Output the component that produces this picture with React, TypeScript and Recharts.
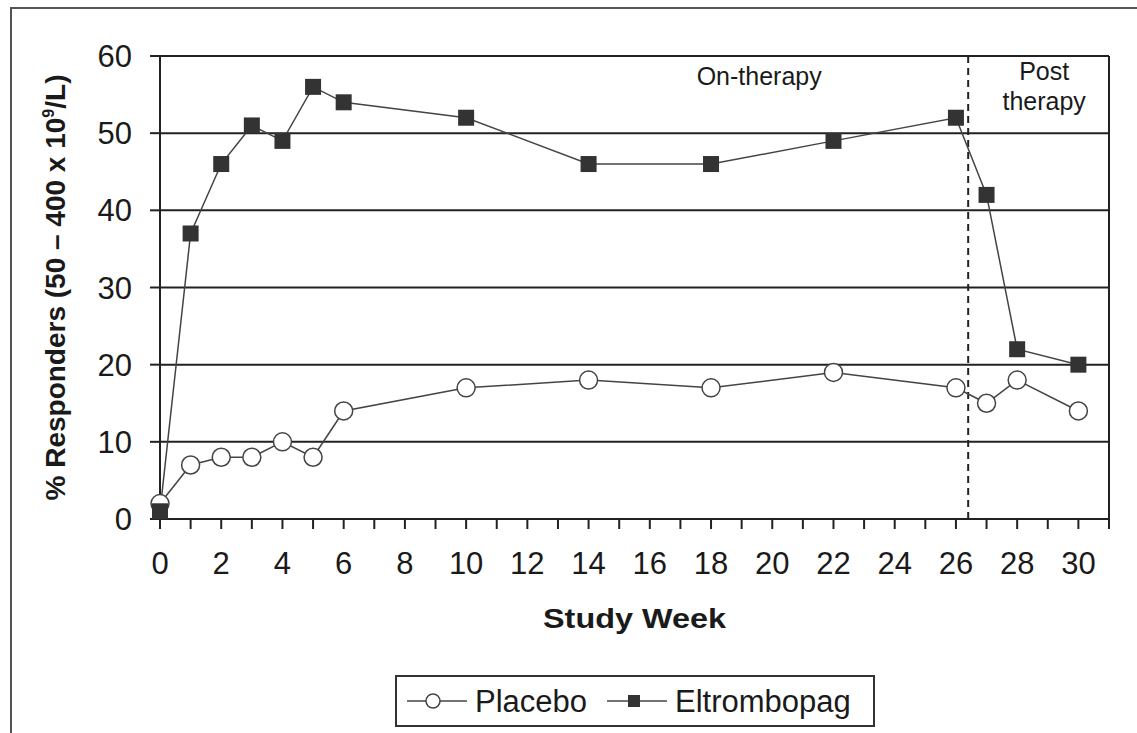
import React from 'react'
import { LineChart, Line, XAxis, YAxis, CartesianGrid, ReferenceLine, Legend } from 'recharts'

const weeks = [0, 1, 2, 3, 4, 5, 6, 10, 14, 18, 22, 26, 27, 28, 30]
const placebo = [2, 7, 8, 8, 10, 8, 14, 17, 18, 17, 19, 17, 15, 18, 14]
const eltrombopag = [1, 37, 46, 51, 49, 56, 54, 52, 46, 46, 49, 52, 42, 22, 20]
const seriesNames = ['Placebo', 'Eltrombopag']

const xTicks = Array.from({ length: 32 }, (_, i) => i)
const yTicks = [0, 10, 20, 30, 40, 50, 60]
const therapyEnd = 26.4

const data = weeks.map((week, i) => ({
  week,
  placebo: placebo[i],
  eltrombopag: eltrombopag[i],
}))

const FONT = '"Liberation Sans", Arial, sans-serif'
const INK = '#1a1a1a'
const LINE = '#444'

function SquareDot(props: any) {
  const { cx, cy, index } = props
  if (cx == null || cy == null) return null
  return <rect key={`sq-${index}`} x={cx - 8} y={cy - 8} width={16} height={16} fill="#333" />
}

function YLabel({ viewBox }: any) {
  const cy = viewBox.y + viewBox.height / 2
  const x = 65
  return (
    <text
      x={x}
      y={cy}
      transform={`rotate(-90, ${x}, ${cy})`}
      textAnchor="middle"
      fontFamily={FONT}
      fontWeight="bold"
      fontSize={28}
      fill={INK}
    >
      % Responders (50 – 400 x 10
      <tspan fontSize={16} dy={-11}>9</tspan>
      <tspan dy={11}>/L)</tspan>
    </text>
  )
}

function XLabel({ viewBox }: any) {
  const cx = viewBox.x + viewBox.width / 2
  return (
    <text
      x={cx}
      y={viewBox.y + 109}
      textAnchor="middle"
      fontFamily={FONT}
      fontWeight="bold"
      fontSize={28}
      fill={INK}
      textLength={183}
      lengthAdjust="spacingAndGlyphs"
    >
      Study Week
    </text>
  )
}

function PhaseLabels({ viewBox }: any) {
  const { x, y } = viewBox
  const common = { fontFamily: FONT, fontSize: 25, fill: INK, textAnchor: 'middle' as const }
  return (
    <g>
      <text x={x - 209} y={y + 29} {...common}>On-therapy</text>
      <text x={x + 76} y={y + 24} {...common}>Post</text>
      <text x={x + 76} y={y + 54} {...common}>therapy</text>
    </g>
  )
}

function LegendBox() {
  return (
    <svg width={480} height={52} style={{ display: 'block' }}>
      <rect x={1} y={1} width={478} height={50} fill="#fff" stroke="#333" strokeWidth={2} />
      {seriesNames.map((label, i) => {
        const x0 = i === 0 ? 12 : 212
        return (
          <g key={label}>
            <line x1={x0} x2={x0 + 60} y1={26} y2={26} stroke={LINE} strokeWidth={1.5} />
            {i === 0 ? (
              <circle cx={x0 + 26} cy={26} r={7} fill="#fff" stroke={LINE} strokeWidth={1.5} />
            ) : (
              <rect x={x0 + 21} y={20} width={12} height={12} fill="#333" />
            )}
            <text x={x0 + 68} y={37} fontFamily={FONT} fontSize={31} fill={INK}>
              {label}
            </text>
          </g>
        )
      })}
    </svg>
  )
}

export default function App() {
  return (
    <div style={{ position: 'fixed', left: 0, top: 0, width: 1137, height: 733, overflow: 'hidden', background: '#fff' }}>
      <div
        style={{
          position: 'absolute',
          left: 10,
          top: 7,
          width: 1200,
          height: 800,
          borderLeft: '2px solid #555',
          borderTop: '2px solid #555',
        }}
      />
      <LineChart
        width={1137}
        height={733}
        data={data}
        margin={{ top: 56, right: 28, bottom: 154, left: 0 }}
        style={{ position: 'absolute', left: 0, top: 0 }}
      >
        <CartesianGrid vertical={false} stroke="#222" strokeWidth={2} />
        <XAxis
          dataKey="week"
          type="number"
          domain={[0, 31]}
          ticks={xTicks}
          interval={0}
          tickFormatter={(v: number) => (v % 2 === 0 && v <= 30 ? String(v) : '')}
          height={60}
          tickSize={10}
          tickMargin={23}
          stroke="#222"
          strokeWidth={2}
          tick={{ fill: INK, fontSize: 31, fontFamily: FONT }}
          label={XLabel}
        />
        <YAxis
          domain={[0, 60]}
          ticks={yTicks}
          interval={0}
          width={160}
          tickSize={10}
          tickMargin={18}
          stroke="#222"
          strokeWidth={2}
          tick={{ fill: INK, fontSize: 31, fontFamily: FONT }}
          label={YLabel}
        />
        <ReferenceLine x={31} stroke="#222" strokeWidth={2} ifOverflow="visible" />
        <ReferenceLine
          x={therapyEnd}
          stroke="#222"
          strokeWidth={2}
          strokeDasharray="7 5"
          label={PhaseLabels}
        />
        <Legend
          layout="horizontal"
          verticalAlign="middle"
          align="center"
          content={LegendBox}
          wrapperStyle={{ position: 'absolute', left: 395, top: 675, width: 480, height: 52 }}
        />
        <Line
          name={seriesNames[0]}
          dataKey="placebo"
          type="linear"
          stroke={LINE}
          strokeWidth={1.5}
          dot={{ r: 9, fill: '#fff', stroke: LINE, strokeWidth: 1.5 }}
          isAnimationActive={false}
        />
        <Line
          name={seriesNames[1]}
          dataKey="eltrombopag"
          type="linear"
          stroke={LINE}
          strokeWidth={1.5}
          dot={SquareDot}
          isAnimationActive={false}
        />
      </LineChart>
    </div>
  )
}
